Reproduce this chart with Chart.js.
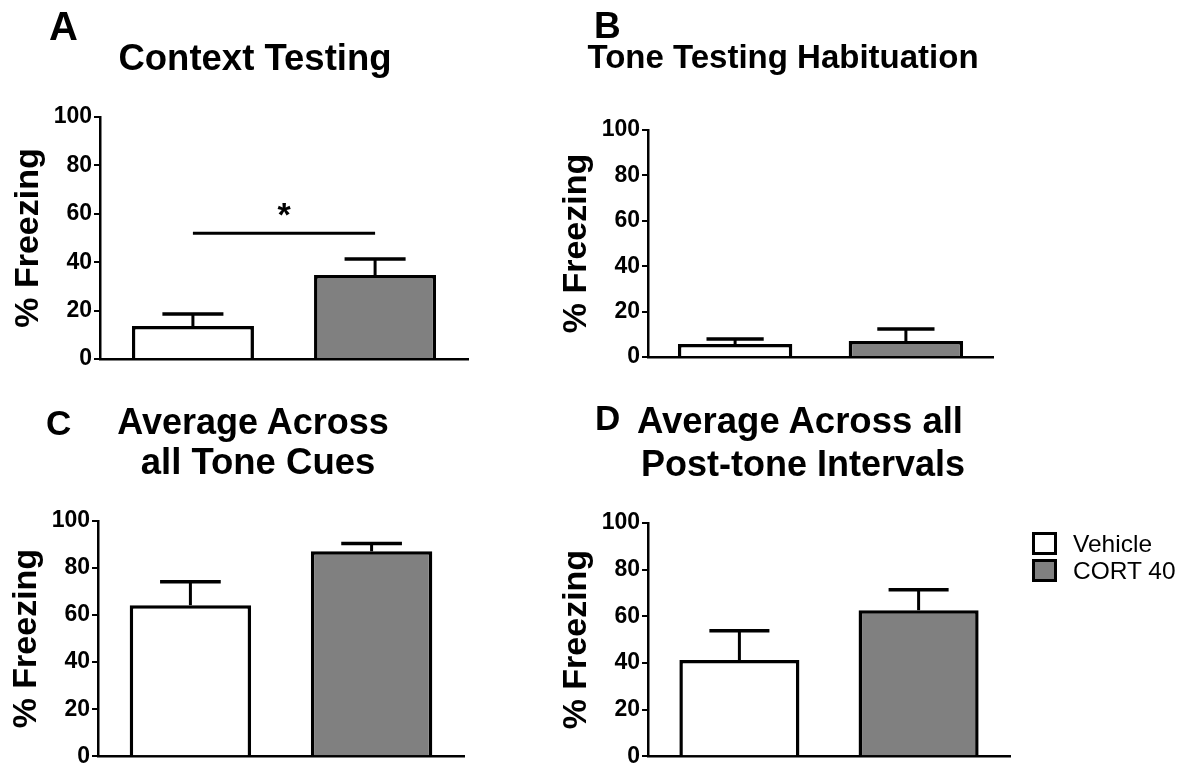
<!DOCTYPE html>
<html>
<head>
<meta charset="utf-8">
<script src="https://cdn.jsdelivr.net/npm/chart.js@4/dist/chart.umd.min.js"></script>
<style>
  body { margin: 0; background: #fff; width: 1189px; height: 772px; position: relative; overflow: hidden;
         font-family: "Liberation Sans", Arial, sans-serif; color: #000; }
  canvas { position: absolute; left: 0; top: 0; }
  .txt { position: absolute; line-height: 1; white-space: nowrap; font-weight: bold; }
  .box { position: absolute; width: 25px; height: 23px; border: 3.5px solid #000; box-sizing: border-box; }
</style>
</head>
<body>
<canvas id="chart-a" width="1189" height="772"></canvas>
<canvas id="chart-b" width="1189" height="772"></canvas>
<canvas id="chart-c" width="1189" height="772"></canvas>
<canvas id="chart-d" width="1189" height="772"></canvas>
<script>
// Freezing data (mean and SEM, % freezing)
const groups = ['Vehicle', 'CORT 40'];
const yTicks = [0, 20, 40, 60, 80, 100];

const contextMean = [13.6, 34.7];
const contextSem = [5.0, 6.6];
const habituationMean = [5.7, 7.0];
const habituationSem = [2.2, 5.3];
const toneMean = [64.2, 87.1];
const toneSem = [10.0, 3.3];
const postToneMean = [41.2, 62.6];
const postToneSem = [12.6, 8.8];

// significance bracket in panel A
const sigPair = [1, 2];
const sigLevel = 52;
const sigLabel = '*';

const FONT = '"Liberation Sans", Arial, sans-serif';
const W = 1189, H = 772;
const Y_AXIS_W = 88;
const barColors = ['#ffffff', '#808080'];

// error bars (upper only) + optional significance line
const errorBars = {
  id: 'errorBars',
  afterDatasetsDraw(chart) {
    const ds = chart.data.datasets[0];
    const meta = chart.getDatasetMeta(0);
    const y = chart.scales.y;
    const x = chart.scales.x;
    const ctx = chart.ctx;
    ctx.save();
    ctx.strokeStyle = '#000';
    meta.data.forEach((bar, i) => {
      const top = y.getPixelForValue(ds.means[i] + ds.sems[i]);
      const half = bar.width * 0.25;
      ctx.lineWidth = 3;
      ctx.beginPath();
      ctx.moveTo(bar.x, bar.y);
      ctx.lineTo(bar.x, top);
      ctx.stroke();
      ctx.lineWidth = 3.5;
      ctx.beginPath();
      ctx.moveTo(bar.x - half, top);
      ctx.lineTo(bar.x + half, top);
      ctx.stroke();
    });
    if (ds.sig) {
      const ly = y.getPixelForValue(ds.sig.level);
      const x1 = x.getPixelForValue(ds.sig.pair[0]);
      const x2 = x.getPixelForValue(ds.sig.pair[1]);
      ctx.lineWidth = 3;
      ctx.beginPath();
      ctx.moveTo(x1, ly);
      ctx.lineTo(x2, ly);
      ctx.stroke();
      ctx.fillStyle = '#000';
      ctx.font = 'bold 34px ' + FONT;
      ctx.textAlign = 'center';
      ctx.textBaseline = 'alphabetic';
      ctx.fillText(ds.sig.label, (x1 + x2) / 2, ly - 7);
    }
    ctx.restore();
  }
};

function makePanel(id, means, sems, area, sig) {
  const ctx = document.getElementById(id).getContext('2d');
  return new Chart(ctx, {
    type: 'bar',
    data: {
      datasets: [{
        data: groups.map((g, i) => ({ x: i + 1, y: means[i] })),
        means: means,
        sems: sems,
        sig: sig,
        backgroundColor: barColors,
        borderColor: '#000',
        borderWidth: 3.5,
        borderSkipped: 'start',
        barPercentage: 0.67,
        categoryPercentage: 1
      }]
    },
    options: {
      responsive: false,
      animation: false,
      devicePixelRatio: 1,
      events: [],
      layout: {
        padding: {
          left: area.left - Y_AXIS_W,
          top: area.top,
          right: W - area.right,
          bottom: H - area.bottom
        }
      },
      plugins: { legend: { display: false }, tooltip: { enabled: false } },
      scales: {
        x: {
          type: 'linear',
          min: 0.49,
          max: 2.51,
          offset: false,
          afterBuildTicks: s => { s.ticks = groups.map((g, i) => ({ value: i + 1 })); },
          afterFit: s => { s.height = 0; },
          grid: { display: false },
          ticks: { display: false },
          border: { color: '#000', width: 2.5 }
        },
        y: {
          min: 0,
          max: 100,
          afterBuildTicks: s => { s.ticks = yTicks.map(v => ({ value: v })); },
          afterFit: s => { s.width = Y_AXIS_W; },
          grid: { drawOnChartArea: false, drawTicks: true, tickLength: 6, color: '#000', lineWidth: 2 },
          border: { color: '#000', width: 2.5 },
          ticks: { color: '#000', padding: 2, font: { family: FONT, size: 23, weight: 'bold' } },
          title: {
            display: true,
            text: '% Freezing',
            color: '#000',
            padding: 0,
            font: { family: FONT, size: 34, weight: 'bold', lineHeight: 1 }
          }
        }
      }
    },
    plugins: [errorBars]
  });
}

makePanel('chart-a', contextMean, contextSem, { left: 100, top: 117, right: 468, bottom: 359 },
  { pair: sigPair, level: sigLevel, label: sigLabel });
makePanel('chart-b', habituationMean, habituationSem, { left: 648, top: 130, right: 993, bottom: 357 });
makePanel('chart-c', toneMean, toneSem, { left: 98, top: 521, right: 464, bottom: 761 });
makePanel('chart-d', postToneMean, postToneSem, { left: 648, top: 523, right: 1010, bottom: 761 });

// headings and panel letters, placed by baseline
function addText(text, x, baseline, size, align, weight) {
  const el = document.createElement('div');
  el.className = 'txt';
  el.textContent = text;
  el.style.fontSize = size + 'px';
  el.style.top = (baseline - 0.8465 * size) + 'px';
  el.style.left = x + 'px';
  if (weight) el.style.fontWeight = weight;
  if (align === 'center') el.style.transform = 'translateX(-50%)';
  document.body.appendChild(el);
}

addText('A', 49, 40, 40);
addText('Context Testing', 255, 71, 36.5, 'center');
addText('B', 594, 38, 37);
addText('Tone Testing Habituation', 783, 68, 33, 'center');
addText('C', 46, 435, 35);
addText('Average Across', 253, 434, 36, 'center');
addText('all Tone Cues', 258, 475, 36.5, 'center');
addText('D', 595, 430, 35);
addText('Average Across all', 800, 434, 36.5, 'center');
addText('Post-tone Intervals', 803, 476, 36, 'center');

// legend
const legendTop = [532, 559];
groups.forEach((g, i) => {
  const box = document.createElement('div');
  box.className = 'box';
  box.style.left = '1032px';
  box.style.top = legendTop[i] + 'px';
  box.style.background = barColors[i];
  document.body.appendChild(box);
  addText(g, 1073, legendTop[i] + 21, 24.5, 'left', 'normal');
});
</script>
</body>
</html>
